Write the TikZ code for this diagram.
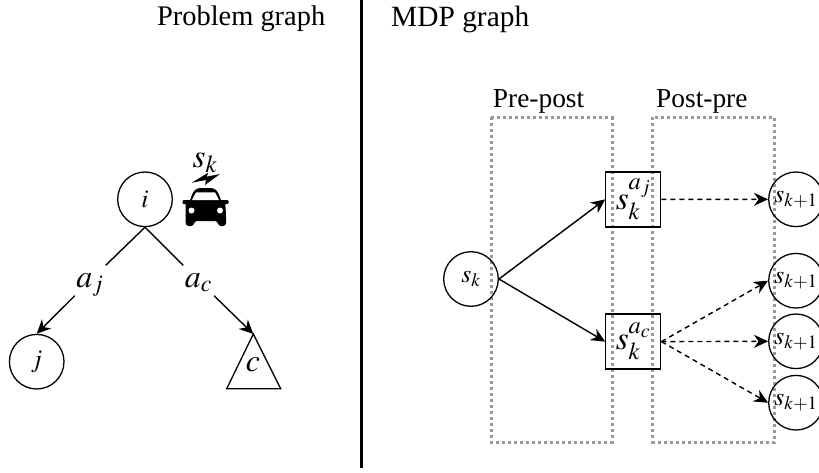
\documentclass[tikz,border=0pt]{standalone}
\usepackage{mathptmx}
\usepackage[no-math]{fontspec}
\setmainfont{Liberation Serif}
\usetikzlibrary{arrows.meta}
\tikzset{
 x=1pt,y=-1pt,
 every node/.style={font=\fontsize{27.4}{30}\selectfont,text=black},
 titletext/.style={anchor=base west,inner sep=0pt},
 st/.style={circle,draw,line width=1.3pt,minimum size=54.6pt,inner sep=0pt},
 sq/.style={rectangle,draw,line width=1.3pt,minimum size=55pt,inner sep=0pt},
 arrowedge/.style={line width=1.4pt,-{Stealth[length=14pt,width=13pt,inset=4.5pt]}},
 plainedge/.style={line width=1.4pt},
 dashedge/.style={arrowedge,dash pattern=on 5pt off 4pt},
 dotbox/.style={draw=black!40,line width=3pt,dash pattern=on 3pt off 3pt},
 gaplabel/.style={inner sep=0pt,minimum width=34pt,minimum height=30pt},
}
\newcommand{\lab}[1]{\fontsize{25.5}{30}\selectfont$#1$}
\newcommand{\gaptext}[1]{\smash{\raisebox{-6.5pt}{\fontsize{32}{30}\selectfont$#1$}}}
\begin{document}
\begin{tikzpicture}
\useasboundingbox (0,0) rectangle (819,472);
\clip (0,0) rectangle (819,472);
\draw[line width=3pt] (361,0) -- (361,468);
\node[titletext,font=\fontsize{28.4}{30}\selectfont] (t1) at (157,25) {Problem graph};
\node[titletext,font=\fontsize{29.4}{30}\selectfont] (t2) at (391,26) {MDP graph};
\node[titletext] (t3) at (492.7,107.5) {Pre-post};
\node[titletext] (t4) at (656,107) {Post-pre};
% problem graph
\node[st] (i) at (145,199.3) {\lab{i}};
\node[st] (j) at (36.7,361.7) {\lab{j}};
\coordinate (ctop) at (253.3,334);
\draw[line width=1.3pt] (ctop) -- (226.7,388.7) -- (280.7,388.7) -- cycle;
\node (c) at (253,365) {\fontsize{32}{30}\selectfont$c$};
\node[gaplabel] (aj) at (90,280.5) {\gaptext{a_j}};
\node[gaplabel] (ac) at (198.5,280.5) {\gaptext{a_c}};
\draw[plainedge] (i.south) -- (aj);
\draw[plainedge] (i.south) -- (ac);
\draw[arrowedge] (aj) -- (j.north);
\draw[arrowedge] (ac) -- (ctop);
% car
\node (sk0) at (205,163) {\fontsize{33}{30}\selectfont$s_k$};
\fill (191.7,182.7) -- (208.3,172.7) -- (206.7,176.7) -- (220,174) -- (205,185) -- (206,180) -- cycle;
\fill[rounded corners=3pt] (188,206) -- (193,192) -- (197,188) -- (214,188) -- (218,192) -- (223,206) -- cycle;
\fill[rounded corners=3pt] (185.7,200) -- (225,200) -- (226,214) -- (226,226) -- (218,226) -- (218,221) -- (194,221) -- (194,226) -- (185.7,226) -- (185.7,214) -- cycle;
\fill[rounded corners=1pt] (182.5,200) -- (192,200) -- (192,204) -- (182.5,204) -- cycle;
\fill[rounded corners=1pt] (219,200) -- (228.5,200) -- (228.5,204) -- (219,204) -- cycle;
\fill[white] (191.5,210.5) circle (3pt) (220,210.5) circle (3pt);
\fill[white] (196,192.3) -- (215,192.3) -- (219,200) -- (192,200) -- cycle;
% MDP graph
\draw[dotbox] (491,117.3) rectangle (612,442);
\draw[dotbox] (652.3,117.3) rectangle (774.3,442);
\node[st] (s) at (471,279) {\lab{s_k}};
\node[sq] (pa) at (633.3,199.4) {\fontsize{33}{30}\selectfont$s_k^{a_j}$};
\node[sq] (pc) at (633.3,341.6) {\fontsize{33}{30}\selectfont$s_k^{a_c}$};
\node[st] (n1) at (796,199.3) {\lab{s_{k+1}}};
\node[st] (n2) at (796,280.7) {\lab{s_{k+1}}};
\node[st] (n3) at (796,341.3) {\lab{s_{k+1}}};
\node[st] (n4) at (796,402.7) {\lab{s_{k+1}}};
\draw[arrowedge] (s.east) -- (pa.west);
\draw[arrowedge] (s.east) -- (pc.west);
\draw[dashedge] (pa.east) -- (n1.west);
\draw[dashedge] (pc.east) -- (n2.west);
\draw[dashedge] (pc.east) -- (n3.west);
\draw[dashedge] (pc.east) -- (n4.west);
\end{tikzpicture}
\end{document}
